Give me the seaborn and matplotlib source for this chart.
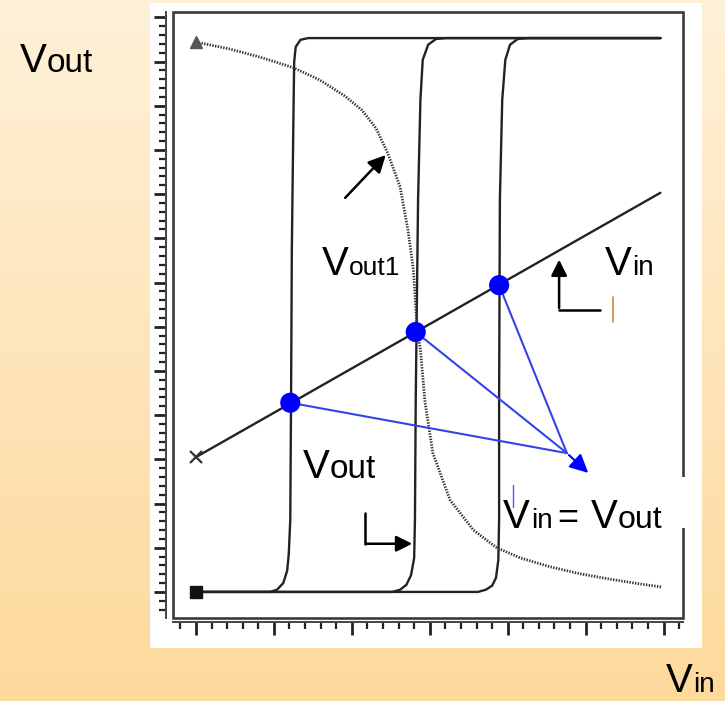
import matplotlib
matplotlib.use('Agg')
import matplotlib.pyplot as plt
from matplotlib.patches import Rectangle
from matplotlib.ticker import MultipleLocator
import numpy as np
import seaborn as sns

# Inverter transfer curves
step1_x = [0.0, 0.95, 1.04, 1.12, 1.17, 1.19, 1.21, 1.22, 1.23, 1.25, 1.26, 1.28, 1.34, 1.44, 5.96]
step1_y = [0.0, 0.0, 0.05, 0.20, 0.48, 0.84, 1.63, 4.34, 7.74, 10.68, 11.99, 12.33, 12.49, 12.53, 12.53]

step2_x = [0.0, 2.52, 2.62, 2.70, 2.76, 2.80, 2.81, 2.82, 2.85, 2.88, 2.91, 2.98, 3.08, 3.21, 5.96]
step2_y = [0.0, 0.0, 0.05, 0.16, 0.38, 0.77, 1.63, 4.34, 8.87, 11.13, 12.04, 12.38, 12.51, 12.53, 12.53]

step3_x = [0.0, 3.62, 3.72, 3.80, 3.85, 3.88, 3.89, 3.89, 3.90, 3.93, 3.97, 4.03, 4.13, 4.26, 5.96]
step3_y = [0.0, 0.0, 0.05, 0.14, 0.32, 0.72, 1.63, 4.34, 8.87, 11.13, 12.04, 12.38, 12.51, 12.53, 12.53]

# Vout1 (dotted) curve
vout1_x = [0.0, 0.44, 0.82, 1.25, 1.59, 1.91, 2.13, 2.31, 2.46, 2.62, 2.72, 2.79, 2.82, 2.84,
           2.88, 2.94, 3.04, 3.26, 3.56, 3.86, 4.16, 4.54, 4.93, 5.31, 5.70, 5.98]
vout1_y = [12.44, 12.28, 12.10, 11.86, 11.58, 11.22, 10.90, 10.49, 9.93, 9.16, 8.19, 7.29, 6.45, 5.93,
           5.48, 4.28, 3.14, 2.08, 1.40, 1.00, 0.77, 0.57, 0.41, 0.29, 0.18, 0.11]

# Vin line and the operating points where Vin = Vout
vin_x = [0.0, 5.96]
vin_y = [3.05, 9.03]
op_x = [1.21, 2.82, 3.89]
op_y = [4.28, 5.88, 6.94]
op_target = (4.76, 3.14)
op_tip = (5.06, 2.65)

sns.set_theme(style='white')
plt.rcParams['font.family'] = ['Liberation Sans', 'DejaVu Sans']
plt.rcParams['text.color'] = 'black'

W, H = 725, 701
fig = plt.figure(figsize=(W / 100, H / 100), dpi=100)

# orange gradient background
bg = fig.add_axes([0, 0, 1, 1], zorder=-10)
grad = np.linspace(0, 1, 256).reshape(-1, 1)
cmap = matplotlib.colors.LinearSegmentedColormap.from_list('bg', ['#FFF1D8', '#FDD99C'])
bg.imshow(grad, aspect='auto', cmap=cmap, extent=[0, 1, 0, 1])
bg.axis('off')

# white panel holding the scanned plot
fig.patches.append(Rectangle((150 / W, 1 - 648 / H), 552 / W, 645 / H,
                             transform=fig.transFigure, facecolor='white', edgecolor='none', zorder=-5))

ax = fig.add_axes([173 / W, 83 / H, 510 / W, 606 / H])
ax.set_facecolor('none')
ax.set_xlim(-0.295, 6.25)
ax.set_ylim(-0.59, 13.12)

line_col = '#222222'
for xs, ys in [(step1_x, step1_y), (step2_x, step2_y), (step3_x, step3_y)]:
    sns.lineplot(x=xs, y=ys, sort=False, estimator=None, color=line_col, lw=1.7, ax=ax)

sns.lineplot(x=vout1_x, y=vout1_y, sort=False, estimator=None, color='#333333',
             lw=2.0, linestyle=(0, (0.5, 0.5)), ax=ax)
sns.lineplot(x=vin_x, y=vin_y, sort=False, estimator=None, color=line_col, lw=1.7, ax=ax)

# end markers
ax.plot(vout1_x[0], vout1_y[0], marker='^', ms=8, color='#555555', zorder=4)
ax.plot(vin_x[0], vin_y[0], marker='x', ms=8, mew=1.6, color='#333333', zorder=4)
ax.plot(step1_x[0], step1_y[0], marker='s', ms=9, color='#111111', zorder=4)

# blue lines converging into an arrow
for x, y in zip(op_x, op_y):
    ax.plot([x, op_target[0]], [y, op_target[1]], color='#3344e6', lw=1.5, zorder=3)
ax.annotate('', xy=op_tip, xytext=op_target,
            arrowprops=dict(arrowstyle='-|>', color='#0000ff', lw=1.5, mutation_scale=28), zorder=3)
sns.scatterplot(x=op_x, y=op_y, s=210, color='#0000ff', edgecolor='none', zorder=5, ax=ax)

# black arrows
ax.annotate('', xy=(2.46, 9.93), xytext=(1.89, 8.87),
            arrowprops=dict(arrowstyle='-|>', color='black', lw=1.8, mutation_scale=26))
ax.plot([2.17, 2.17], [1.79, 1.09], color='black', lw=1.8)
ax.annotate('', xy=(2.81, 1.09), xytext=(2.15, 1.09),
            arrowprops=dict(arrowstyle='-|>', color='black', lw=1.8, mutation_scale=24))
ax.plot([5.19, 4.66], [6.38, 6.38], color='black', lw=1.8)
ax.annotate('', xy=(4.66, 7.58), xytext=(4.66, 6.36),
            arrowprops=dict(arrowstyle='-|>', color='black', lw=1.8, mutation_scale=24))
ax.plot([5.35, 5.35], [6.67, 6.11], color='#d08a3a', lw=1.2)

# ticks and the double-line frame
ax.xaxis.set_major_locator(MultipleLocator(1))
ax.xaxis.set_minor_locator(MultipleLocator(0.2))
ax.yaxis.set_major_locator(MultipleLocator(1))
ax.yaxis.set_minor_locator(MultipleLocator(0.2))
ax.tick_params(which='major', direction='out', length=9, width=2.0, color='#222222',
               left=True, bottom=True, labelleft=False, labelbottom=False)
ax.tick_params(which='minor', direction='out', length=5, width=1.6, color='#222222',
               left=True, bottom=True)
ax.set_xlabel('')
ax.set_ylabel('')
ax.spines['left'].set_position(('outward', 5))
ax.spines['bottom'].set_position(('outward', 3))
for side in ['left', 'bottom']:
    ax.spines[side].set_color('#444444')
    ax.spines[side].set_linewidth(1.4)
ax.spines['top'].set_visible(False)
ax.spines['right'].set_visible(False)
ax.add_patch(Rectangle((0, 0), 1, 1, transform=ax.transAxes, fill=False,
                       edgecolor='#3a3a3a', lw=1.9, clip_on=False, zorder=2.5))

# white label box over the right edge
ax.add_patch(Rectangle((4.07, 1.45), 2.23, 1.15, facecolor='white', edgecolor='none',
                       clip_on=False, zorder=3))
ax.plot([4.07, 4.07], [2.42, 1.92], color='#8040ff', lw=1.0, zorder=4)


def vlabel(x, y, suffix, size, dx):
    ax.text(x, y, 'V', fontsize=29, va='baseline', ha='left', zorder=6)
    ax.annotate(suffix, xy=(x, y), xytext=(dx, 0), textcoords='offset pixels',
                fontsize=size, va='baseline', ha='left', zorder=6)


vlabel(1.62, 7.17, 'out1', 19, 27)
vlabel(1.37, 2.58, 'out', 24, 27)
vlabel(5.25, 7.17, 'in', 20, 27)
vlabel(3.94, 1.45, 'in', 20, 28)
ax.annotate('=', xy=(3.94, 1.45), xytext=(54, 0), textcoords='offset pixels',
            fontsize=26, va='baseline', ha='left', zorder=6)
ax.annotate('V', xy=(3.94, 1.45), xytext=(88, 0), textcoords='offset pixels',
            fontsize=29, va='baseline', ha='left', zorder=6)
ax.annotate('out', xy=(3.94, 1.45), xytext=(115, 0), textcoords='offset pixels',
            fontsize=23, va='baseline', ha='left', zorder=6)

# outer axis names
fig.text(20 / W, 1 - 72 / H, 'V', fontsize=29, va='baseline', ha='left')
fig.text(47 / W, 1 - 72 / H, 'out', fontsize=24, va='baseline', ha='left')
fig.text(666 / W, 1 - 692 / H, 'V', fontsize=29, va='baseline', ha='left')
fig.text(693 / W, 1 - 692 / H, 'in', fontsize=20, va='baseline', ha='left')

fig.savefig('out.png', dpi=100)
